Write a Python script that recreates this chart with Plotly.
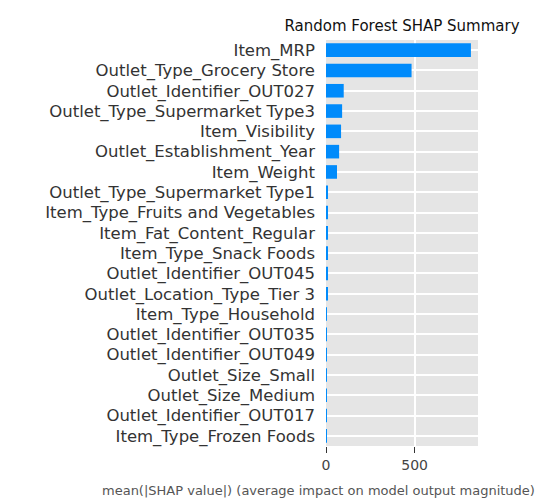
import plotly.graph_objs as go

features = [
    'Item_MRP', 'Outlet_Type_Grocery Store', 'Outlet_Identifier_OUT027',
    'Outlet_Type_Supermarket Type3', 'Item_Visibility', 'Outlet_Establishment_Year',
    'Item_Weight', 'Outlet_Type_Supermarket Type1', 'Item_Type_Fruits and Vegetables',
    'Item_Fat_Content_Regular', 'Item_Type_Snack Foods', 'Outlet_Identifier_OUT045',
    'Outlet_Location_Type_Tier 3', 'Item_Type_Household', 'Outlet_Identifier_OUT035',
    'Outlet_Identifier_OUT049', 'Outlet_Size_Small', 'Outlet_Size_Medium',
    'Outlet_Identifier_OUT017', 'Item_Type_Frozen Foods',
]
mean_shap = [818, 483, 100, 91, 85, 74, 62, 10, 9, 9, 9, 9, 9, 5, 5, 5, 5, 5, 5, 5]

fig = go.Figure(go.Bar(
    x = mean_shap,
    y = features,
    orientation = 'h',
    marker_color = '#008bfb',
    marker_line_width = 0,
))

fig.update_layout(
    width = 547, height = 502,
    margin = dict(l = 318, r = 77, t = 32, b = 64, autoexpand = False),
    plot_bgcolor = '#e5e5e5',
    paper_bgcolor = 'white',
    font = dict(family = 'DejaVu Sans', size = 15, color = '#333333'),
    bargap = 0.33,
    showlegend = False,
    title = dict(text = 'Random Forest SHAP Summary', x = 394 / 547, xanchor = 'center',
                 y = 1 - 18 / 502, yanchor = 'middle', font = dict(size = 15, color = '#111111')),
)
fig.update_xaxes(range = [0, 858], tickvals = [0, 500], gridcolor = 'white', gridwidth = 1.5,
                 zeroline = False, ticks = 'outside', ticklen = 6, tickcolor = '#333333',
                 automargin = False, tickfont = dict(size = 14, color = '#444444'))
fig.update_yaxes(autorange = 'reversed', gridcolor = 'white', gridwidth = 1.5,
                 ticks = '', automargin = False, ticklabelstandoff = 10,
                 tickfont = dict(size = 16.5, color = '#333333'))

fig.add_annotation(
    text = 'mean(|SHAP value|) (average impact on model output magnitude)',
    xref = 'paper', yref = 'paper', x = (92 - 318) / 152, y = -45 / 406,
    xanchor = 'left', yanchor = 'middle', showarrow = False,
    font = dict(size = 13, color = '#555555'),
)

fig.write_html("out.html")
